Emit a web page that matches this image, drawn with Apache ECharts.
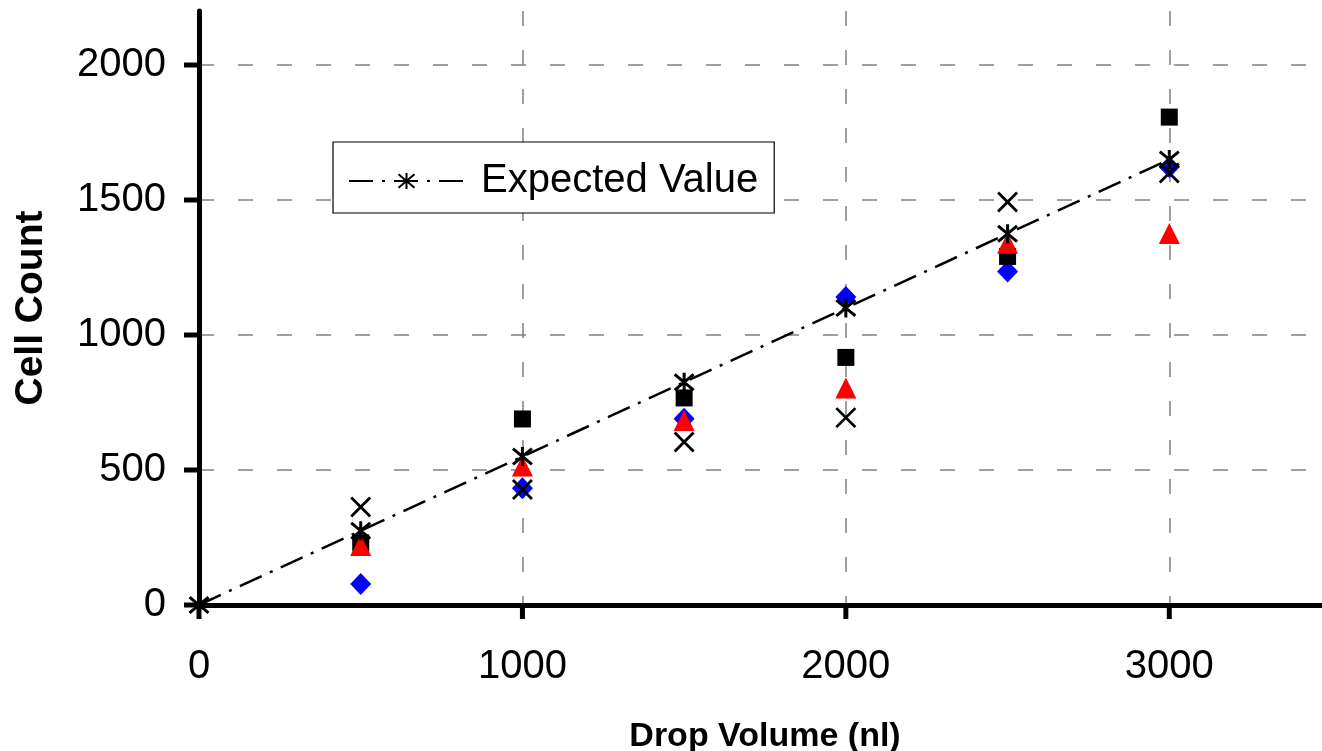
<!DOCTYPE html>
<html>
<head>
<meta charset="utf-8">
<script src="https://cdn.jsdelivr.net/npm/echarts@6/dist/echarts.min.js"></script>
<style>
html,body{margin:0;padding:0;background:#fff;}
#chart{width:1322px;height:751px;}
</style>
</head>
<body>
<div id="chart"></div>
<script>
// ---- data ----
const volumes = [500, 1000, 1500, 2000, 2500, 3000];
const diamondCounts = [78, 432, 690, 1141, 1235, 1622];
const squareCounts = [230, 689, 767, 917, 1291, 1807];
const triangleCounts = [220, 515, 683, 804, 1340, 1376];
const crossCounts = [363, 428, 604, 694, 1493, 1600];
const expectedVolumes = [0, 500, 1000, 1500, 2000, 2500, 3000];
const expectedCounts = [0, 275, 550, 825, 1100, 1375, 1650];
const yTickValues = [0, 500, 1000, 1500, 2000];
const xTickValues = [0, 1000, 2000, 3000];

const pair = (xs, ys) => xs.map((x, i) => [x, ys[i]]);

const FONT = '"Liberation Sans", Arial, sans-serif';
const crossPath = 'path://M0,0L10,10M10,0L0,10';
const asteriskPath = 'path://M0,0L10,10M10,0L0,10M5,-1L5,11';
const plain = v => String(v);

const chart = echarts.init(document.getElementById('chart'), null, {renderer: 'canvas'});
chart.setOption({
  animation: false,
  backgroundColor: '#ffffff',
  grid: {left: 199, top: 11, height: 594, width: 1132, containLabel: false, outerBoundsMode: 'none'},
  legend: {
    data: ['Expected Value'],
    left: 333, top: 142,
    orient: 'horizontal',
    backgroundColor: '#ffffff',
    borderColor: '#000000', borderWidth: 1.2, borderRadius: 0,
    padding: [19, 16, 12, 15],
    itemWidth: 115, itemHeight: 20,
    textStyle: {fontFamily: FONT, fontSize: 40, color: '#000', padding: [0, 0, 0, 12]}
  },
  xAxis: {
    type: 'value', min: 0, max: 3500, interval: 1000,
    name: 'Drop Volume (nl)', nameLocation: 'middle', nameGap: 115,
    nameTextStyle: {fontFamily: FONT, fontSize: 34, fontWeight: 'bold', color: '#000'},
    axisLine: {show: true, onZero: false, lineStyle: {color: '#000', width: 5}},
    axisTick: {show: false},
    axisLabel: {fontFamily: FONT, fontSize: 40, color: '#000', margin: 42, customValues: xTickValues, formatter: plain},
    splitLine: {show: true, lineStyle: {color: '#808080', width: 1.5, type: [15, 24]}}
  },
  yAxis: {
    type: 'value', min: 0, max: 2200, interval: 500,
    name: 'Cell Count', nameLocation: 'middle', nameGap: 148, nameRotate: 90,
    nameTextStyle: {fontFamily: FONT, fontSize: 39, fontWeight: 'bold', color: '#000'},
    axisLine: {show: true, onZero: false, lineStyle: {color: '#000', width: 5}},
    axisTick: {show: false},
    axisLabel: {fontFamily: FONT, fontSize: 40, color: '#000', margin: 33, customValues: yTickValues, formatter: plain},
    splitLine: {show: true, showMaxLine: false, lineStyle: {color: '#808080', width: 1.5, type: [15, 24]}}
  },
  series: [
    {
      name: 'xTickMarks', type: 'scatter', silent: true, z: 6, clip: false,
      data: xTickValues.map(v => [v, 0]),
      symbol: 'rect', symbolSize: [5, 12], symbolOffset: [0, 8],
      itemStyle: {color: '#000', opacity: 1}
    },
    {
      name: 'yTickMarks', type: 'scatter', silent: true, z: 6, clip: false,
      data: yTickValues.map(v => [0, v]),
      symbol: 'rect', symbolSize: [14, 5], symbolOffset: [-8, 0],
      itemStyle: {color: '#000', opacity: 1}
    },
    {
      name: 'Series A', type: 'scatter', data: pair(volumes, diamondCounts),
      symbol: 'diamond', symbolSize: [21, 22],
      itemStyle: {color: '#0000ff', opacity: 1}
    },
    {
      name: 'Series B', type: 'scatter', data: pair(volumes, squareCounts),
      symbol: 'rect', symbolSize: 17,
      itemStyle: {color: '#000000', opacity: 1}
    },
    {
      name: 'Series C', type: 'scatter', data: pair(volumes, triangleCounts),
      symbol: 'triangle', symbolSize: [21, 21],
      itemStyle: {color: '#ff0000', opacity: 1}
    },
    {
      name: 'Series D', type: 'scatter', data: pair(volumes, crossCounts),
      symbol: crossPath, symbolSize: 19,
      itemStyle: {color: 'none', borderColor: '#000', borderWidth: 2.8, opacity: 1}
    },
    {
      name: 'Expected Value', type: 'line', data: pair(expectedVolumes, expectedCounts),
      symbol: asteriskPath, symbolSize: 19, showSymbol: true,
      lineStyle: {color: '#000', width: 2.5, type: [24, 9, 3, 9]},
      itemStyle: {color: 'none', borderColor: '#000', borderWidth: 3, opacity: 1}
    }
  ]
});
</script>
</body>
</html>
